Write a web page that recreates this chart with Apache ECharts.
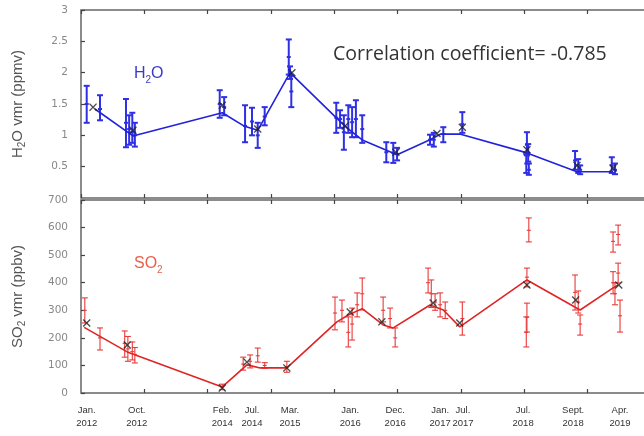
<!DOCTYPE html>
<html>
<head>
<meta charset="utf-8">
<script src="https://cdn.jsdelivr.net/npm/echarts@6/dist/echarts.min.js"></script>
<style>
  html, body { margin: 0; background: #fff; }
  #chart { width: 644px; height: 436px; }
</style>
</head>
<body>
<div id="chart"></div>
<script>
// x is in "panel units": one unit per major tick spacing, 0 at the left frame
const xTickPos = [1, 2, 3, 4, 5, 6, 7, 8];
const xLabelPos = [0.09, 0.88, 2.23, 2.70, 3.30, 4.25, 4.96, 5.67, 6.03, 6.98, 7.77, 8.51];
const xLabelText = ['Jan.\n2012', 'Oct.\n2012', 'Feb.\n2014', 'Jul.\n2014', 'Mar.\n2015', 'Jan.\n2016',
    'Dec.\n2016', 'Jan.\n2017', 'Jul.\n2017', 'Jul.\n2018', 'Sept.\n2018', 'Apr.\n2019'];

// H2O (ppmv): connecting line, campaign means (x), individual points [x, value, low, high]
const h2oLine = [[0.22, 1.42], [0.82, 0.99], [2.23, 1.36], [2.57, 1.15], [2.79, 1.08], [3.30, 2.00],
    [4.04, 1.27], [4.20, 1.12], [4.45, 0.92], [4.99, 0.69], [5.51, 0.93], [5.68, 1.02], [5.98, 1.02],
    [7.04, 0.72], [7.83, 0.42], [8.40, 0.42]];
const h2oMeans = [[0.19, 1.45], [0.82, 1.08], [2.23, 1.48], [2.79, 1.10], [3.33, 2.00], [4.17, 1.15],
    [4.97, 0.73], [5.62, 1.03], [6.02, 1.13], [7.04, 0.77], [7.83, 0.52], [8.40, 0.48]];
const h2oPoints = [
    [0.09, 1.50, 1.20, 1.79], [0.30, 1.42, 1.24, 1.64],
    [0.71, 1.20, 0.81, 1.58], [0.76, 1.10, 0.85, 1.32], [0.81, 1.05, 0.88, 1.36], [0.85, 1.00, 0.82, 1.20],
    [2.19, 1.50, 1.28, 1.72], [2.26, 1.45, 1.32, 1.61],
    [2.59, 1.15, 0.89, 1.48], [2.70, 1.22, 1.00, 1.44], [2.79, 1.00, 0.80, 1.20], [2.90, 1.30, 1.16, 1.45],
    [3.28, 2.25, 1.97, 2.53], [3.30, 2.00, 1.90, 2.10], [3.32, 1.70, 1.45, 1.95],
    [4.03, 1.28, 1.04, 1.52], [4.09, 1.26, 1.12, 1.40], [4.15, 1.05, 0.77, 1.32], [4.22, 1.26, 1.04, 1.48],
    [4.28, 1.21, 0.97, 1.45], [4.34, 1.26, 0.97, 1.56], [4.44, 1.10, 0.88, 1.32],
    [4.82, 0.73, 0.57, 0.89], [4.93, 0.72, 0.56, 0.88], [4.99, 0.70, 0.60, 0.80],
    [5.51, 0.93, 0.85, 1.01], [5.57, 0.93, 0.82, 1.04], [5.72, 1.02, 0.89, 1.13],
    [6.02, 1.18, 1.04, 1.37],
    [7.04, 0.85, 0.68, 1.05], [7.06, 0.72, 0.58, 0.86], [7.03, 0.55, 0.40, 0.70], [7.07, 0.45, 0.37, 0.55],
    [7.80, 0.60, 0.45, 0.75], [7.85, 0.52, 0.40, 0.62], [7.88, 0.45, 0.38, 0.52],
    [8.38, 0.52, 0.40, 0.65], [8.43, 0.45, 0.38, 0.55]
];

// SO2 (ppbv)
const so2Line = [[0.05, 238], [0.73, 149], [2.23, 22], [2.62, 102], [2.83, 91], [3.25, 91],
    [4.04, 258], [4.22, 283], [4.44, 306], [4.77, 247], [4.93, 236], [5.51, 319], [5.72, 301],
    [5.98, 240], [7.04, 410], [7.88, 301], [8.40, 381], [8.48, 392]];
const so2Means = [[0.09, 254], [0.73, 174], [2.23, 18], [2.62, 112], [3.25, 91], [4.25, 294],
    [4.75, 258], [5.56, 326], [5.98, 254], [7.04, 392], [7.81, 337], [8.49, 392]];
const so2Points = [
    [0.06, 300, 254, 345], [0.30, 200, 156, 236],
    [0.69, 180, 130, 225], [0.74, 160, 115, 205], [0.81, 150, 120, 185], [0.85, 140, 109, 165],
    [2.23, 22, 12, 32],
    [2.56, 105, 83, 130], [2.67, 115, 91, 138], [2.79, 135, 112, 163], [2.90, 100, 90, 110],
    [3.25, 95, 75, 115],
    [4.01, 290, 229, 348], [4.12, 300, 258, 337], [4.22, 220, 167, 276], [4.28, 250, 192, 308],
    [4.36, 320, 276, 363], [4.44, 360, 301, 417],
    [4.77, 300, 258, 348], [4.88, 270, 236, 308], [4.96, 200, 167, 236],
    [5.48, 400, 363, 453], [5.53, 360, 310, 410], [5.59, 330, 300, 360], [5.67, 320, 276, 363],
    [5.75, 300, 270, 330],
    [6.02, 270, 210, 330],
    [7.07, 590, 548, 635], [7.04, 420, 385, 453], [7.04, 275, 221, 326], [7.03, 220, 167, 276],
    [7.80, 365, 301, 428], [7.85, 330, 290, 370], [7.88, 250, 210, 283],
    [8.40, 550, 511, 584], [8.48, 575, 537, 609], [8.40, 400, 360, 440], [8.43, 360, 320, 400],
    [8.48, 435, 399, 471], [8.51, 280, 221, 337]
];

const X_MAX = 8.92;
const crossSymbol = 'path://M0,1.2L1.2,0L5,3.8L8.8,0L10,1.2L6.2,5L10,8.8L8.8,10L5,6.2L1.2,10L0,8.8L3.8,5Z';
const labelFont = { color: '#888', fontFamily: 'DejaVu Sans', fontSize: 10.5 };

function errorBar(color, width, cap) {
    return function (params, api) {
        const x = api.value(0);
        const hi = api.coord([x, api.value(3)]);
        const lo = api.coord([x, api.value(2)]);
        const mid = api.coord([x, api.value(1)]);
        const style = { stroke: color, lineWidth: width };
        return {
            type: 'group',
            children: [
                { type: 'line', shape: { x1: hi[0], y1: hi[1], x2: lo[0], y2: lo[1] }, style },
                { type: 'line', shape: { x1: hi[0] - cap, y1: hi[1], x2: hi[0] + cap, y2: hi[1] }, style },
                { type: 'line', shape: { x1: lo[0] - cap, y1: lo[1], x2: lo[0] + cap, y2: lo[1] }, style },
                { type: 'line', shape: { x1: mid[0] - cap + 1, y1: mid[1], x2: mid[0] + cap - 1, y2: mid[1] }, style }
            ]
        };
    };
}

function xAxisFor(gridIndex, position, extra) {
    return Object.assign({
        type: 'value', gridIndex, position, min: 0, max: X_MAX, interval: 1,
        axisLine: { show: false },
        axisTick: { show: true, inside: true, length: 4, lineStyle: { color: '#444', width: 1.2 } },
        axisLabel: { show: false },
        splitLine: { show: false }
    }, extra || {});
}

const nameRich = {
    a: { fontFamily: 'Liberation Sans', fontSize: 15, color: '#555', lineHeight: 19 },
    s: { fontFamily: 'Liberation Sans', fontSize: 10, color: '#555', lineHeight: 10, verticalAlign: 'bottom' }
};

const chart = echarts.init(document.getElementById('chart'));
chart.setOption({
    backgroundColor: '#fff',
    animation: false,
    grid: [
        { left: 81, top: 10, width: 565, height: 188, show: true, borderColor: '#666', borderWidth: 1.5, outerBoundsMode: 'none' },
        { left: 81, top: 200, width: 565, height: 193, show: true, borderColor: '#666', borderWidth: 1.5, outerBoundsMode: 'none' }
    ],
    xAxis: [
        xAxisFor(0, 'bottom'),
        xAxisFor(0, 'top'),
        xAxisFor(1, 'bottom', {
            axisTick: { show: true, inside: true, length: 4, customValues: xTickPos, lineStyle: { color: '#444', width: 1.2 } },
            axisLabel: {
                show: true, customValues: xLabelPos, margin: 11,
                color: '#333', fontFamily: 'Liberation Sans', fontSize: 9.5, lineHeight: 13,
                formatter: function (v) {
                    let best = 0;
                    xLabelPos.forEach(function (p, i) { if (Math.abs(p - v) < Math.abs(xLabelPos[best] - v)) best = i; });
                    return xLabelText[best];
                }
            }
        }),
        xAxisFor(1, 'top')
    ],
    yAxis: [
        {
            type: 'value', gridIndex: 0, min: 0, max: 3, interval: 0.5,
            axisLine: { show: false },
            axisTick: { inside: true, length: 4, lineStyle: { color: '#444', width: 1.2 } },
            axisLabel: Object.assign({ margin: 13, showMinLabel: false }, labelFont),
            splitLine: { show: false },
            name: '{a|H}{s|2}{a|O vmr (ppmv)}', nameLocation: 'middle', nameGap: 54,
            nameTextStyle: { rich: nameRich }
        },
        {
            type: 'value', gridIndex: 1, min: 0, max: 700, interval: 100,
            axisLine: { show: false },
            axisTick: { inside: true, length: 4, lineStyle: { color: '#444', width: 1.2 } },
            axisLabel: Object.assign({ margin: 13 }, labelFont),
            splitLine: { show: false },
            name: '{a|SO}{s|2}{a| vmr (ppbv)}', nameLocation: 'middle', nameGap: 54,
            nameTextStyle: { rich: nameRich }
        }
    ],
    graphic: [
        {
            type: 'text', left: 134, top: 66,
            style: {
                text: '{a|H}{s|2}{a|O}',
                rich: {
                    a: { fontFamily: 'Liberation Sans', fontSize: 16, fill: '#3a3ac8', lineHeight: 22 },
                    s: { fontFamily: 'Liberation Sans', fontSize: 10, fill: '#3a3ac8', lineHeight: 10, verticalAlign: 'bottom' }
                }
            }
        },
        {
            type: 'text', left: 134, top: 256,
            style: {
                text: '{a|SO}{s|2}',
                rich: {
                    a: { fontFamily: 'Liberation Sans', fontSize: 16, fill: '#e8604c', lineHeight: 22 },
                    s: { fontFamily: 'Liberation Sans', fontSize: 10, fill: '#e8604c', lineHeight: 10, verticalAlign: 'bottom' }
                }
            }
        },
        {
            type: 'text', left: 333, top: 44,
            style: { text: 'Correlation coefficient= -0.785', fontFamily: 'Open Sans', fontSize: 19.5, fill: '#333' }
        }
    ],
    series: [
        {
            type: 'custom', xAxisIndex: 0, yAxisIndex: 0, data: h2oPoints,
            encode: { x: 0, y: [1, 2, 3] }, renderItem: errorBar('#2f2fe6', 2, 3), z: 2
        },
        {
            type: 'line', xAxisIndex: 0, yAxisIndex: 0, data: h2oLine, showSymbol: false,
            lineStyle: { color: '#2222dd', width: 1.6 }, z: 3
        },
        {
            type: 'scatter', xAxisIndex: 0, yAxisIndex: 0, data: h2oMeans,
            symbol: crossSymbol, symbolSize: 8, itemStyle: { color: '#222' }, z: 4
        },
        {
            type: 'custom', xAxisIndex: 2, yAxisIndex: 1, data: so2Points,
            encode: { x: 0, y: [1, 2, 3] }, renderItem: errorBar('#e83a3a', 1.1, 3), z: 2
        },
        {
            type: 'line', xAxisIndex: 2, yAxisIndex: 1, data: so2Line, showSymbol: false,
            lineStyle: { color: '#e02424', width: 1.6 }, z: 3
        },
        {
            type: 'scatter', xAxisIndex: 2, yAxisIndex: 1, data: so2Means,
            symbol: crossSymbol, symbolSize: 8, itemStyle: { color: '#222' }, z: 4
        }
    ]
});
</script>
</body>
</html>
